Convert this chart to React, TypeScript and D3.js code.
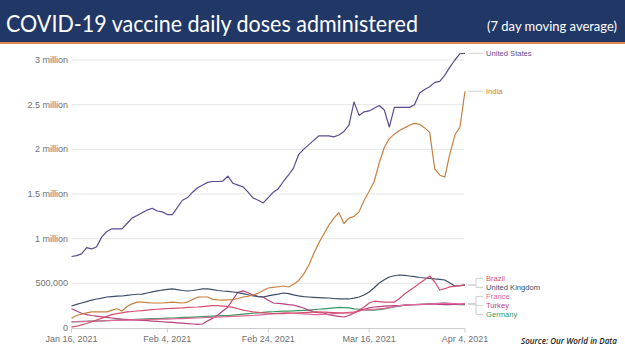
import React from "react";
import * as d3 from "d3";

// ---------- data (thousands of doses, 7-day average, daily from Jan 16 to Apr 4, 2021) ----------
const xTickDays = [0, 19, 39, 59, 78];
const xTickLabels = ["Jan 16, 2021", "Feb 4, 2021", "Feb 24, 2021", "Mar 16, 2021", "Apr 4, 2021"];
const yTicks = [0, 500, 1000, 1500, 2000, 2500, 3000];
const yTickLabels = ["0", "500,000", "1 million", "1.5 million", "2 million", "2.5 million", "3 million"];

const unitedStates = [
  800, 810, 830, 900, 885, 910, 1020, 1080, 1110, 1110,
  1110, 1170, 1230, 1260, 1290, 1320, 1340, 1310, 1300, 1270,
  1270, 1350, 1430, 1460, 1520, 1570, 1600, 1630, 1640, 1640,
  1645, 1700, 1620, 1600, 1580, 1520, 1455, 1430, 1400, 1460,
  1520, 1560, 1640, 1710, 1790, 1940, 2000, 2050, 2100, 2150,
  2150, 2150, 2140, 2160, 2200, 2270, 2530, 2380, 2420, 2430,
  2460, 2490, 2440, 2250, 2470, 2470, 2470, 2470, 2500, 2630,
  2670, 2700, 2750, 2760, 2830, 2920, 3000, 3070, 3075,
];
const india = [
  110, 140, 155, 170, 180, 180, 180, 180, 200, 215,
  190, 240, 270, 290, 290, 285, 280, 280, 280, 285,
  290, 285, 280, 290, 320, 345, 347, 347, 320, 315,
  313, 315, 318, 330, 347, 355, 370, 390, 420, 448,
  455, 462, 470, 459, 490, 530, 600, 700, 830, 950,
  1050, 1150, 1230, 1290, 1170, 1230, 1250, 1300, 1430, 1530,
  1640, 1850, 2020, 2120, 2170, 2210, 2240, 2270, 2290, 2280,
  2240, 2190, 1780, 1710, 1690, 1950, 2160, 2250, 2650,
];
const brazil = [
  10, 20, 35, 50, 70, 90, 110, 130, 150, 160,
  170, 180, 185, 190, 195, 200, 205, 210, 215, 218,
  220, 222, 225, 230, 232, 235, 240, 245, 250, 250,
  245, 240, 230, 215, 200, 190, 180, 175, 170, 165,
  160, 160, 162, 165, 168, 170, 172, 175, 178, 180,
  178, 175, 172, 170, 168, 168, 170, 200, 235, 280,
  300, 295, 290, 290, 290, 330, 380, 420, 460, 500,
  540, 582, 515, 425, 440, 460, 468, 475, 482,
];
const unitedKingdom = [
  246, 265, 280, 295, 313, 325, 335, 347, 352, 356,
  358, 365, 372, 378, 380, 392, 405, 415, 425, 432,
  437, 430, 420, 414, 420, 428, 437, 437, 430, 420,
  414, 410, 403, 395, 385, 372, 360, 352, 347, 360,
  370, 380, 392, 385, 370, 360, 352, 347, 343, 340,
  338, 336, 330, 325, 325, 325, 335, 347, 370, 403,
  450, 504, 540, 571, 585, 593, 590, 582, 575, 565,
  560, 555, 549, 545, 537, 504, 470, 475, 481,
];
const france = [
  70, 72, 74, 75, 77, 78, 80, 82, 84, 85,
  86, 88, 90, 92, 93, 95, 96, 98, 100, 100,
  102, 104, 106, 108, 110, 112, 115, 118, 120, 122,
  125, 128, 130, 132, 135, 138, 140, 145, 150, 155,
  160, 165, 170, 170, 165, 160, 158, 155, 150, 150,
  152, 155, 160, 165, 170, 175, 180, 190, 200, 205,
  210, 215, 220, 230, 240, 250, 255, 260, 262, 265,
  268, 270, 272, 275, 278, 275, 272, 270, 275,
];
const turkey = [
  215, 190, 165, 150, 140, 132, 125, 118, 112, 106,
  100, 96, 92, 88, 85, 82, 78, 74, 70, 66,
  62, 58, 54, 50, 45, 40, 45, 80, 110, 145,
  190, 235, 320, 400, 415, 395, 370, 355, 347, 310,
  280, 275, 270, 262, 257, 240, 224, 200, 180, 172,
  168, 150, 138, 130, 123, 140, 168, 190, 210, 225,
  235, 240, 245, 248, 250, 252, 255, 258, 260, 262,
  265, 268, 266, 264, 262, 262, 264, 266, 268,
];
const germany = [
  68, 70, 72, 74, 76, 78, 80, 82, 85, 88,
  90, 92, 95, 98, 100, 102, 104, 106, 108, 110,
  112, 115, 118, 120, 122, 125, 128, 130, 132, 135,
  138, 140, 145, 150, 155, 160, 165, 170, 175, 180,
  182, 185, 188, 190, 192, 195, 198, 200, 205, 210,
  215, 220, 225, 230, 228, 225, 215, 210, 205, 200,
  200, 205, 215, 225, 235, 245, 255, 260, 262, 265,
  268, 270, 272, 275, 278, 272, 265, 260, 262,
];

const seriesNames = ["United States", "India", "Brazil", "United Kingdom", "France", "Turkey", "Germany"];
const seriesValues = [unitedStates, india, brazil, unitedKingdom, france, turkey, germany];
const seriesColors = ["#5e4b8f", "#c8803f", "#d4506e", "#3d4d68", "#e0689a", "#b8417f", "#3a9960"];

export default function App() {
  const W = 625;
  const H = 351;
  const x = d3.scaleLinear().domain([0, 78]).range([71.5, 465]);
  const y = d3.scaleLinear().domain([0, 3000]).range([328, 60]);
  const line = d3
    .line<number>()
    .x((_, i) => x(i))
    .y((v) => y(v))
    .curve(d3.curveLinear);

  // label placement with simple collision avoidance
  const labelGap = 9;
  const items = seriesNames.map((name, i) => {
    const vals = seriesValues[i];
    const endY = y(vals[vals.length - 1]);
    return { name, color: seriesColors[i], endY, ly: endY };
  });
  for (let iter = 0; iter < 60; iter++) {
    for (let i = 1; i < items.length; i++) {
      const a = items[i - 1];
      const b = items[i];
      if (b.ly - a.ly < labelGap) {
        const overlap = labelGap - (b.ly - a.ly);
        a.ly -= overlap / 2;
        b.ly += overlap / 2;
      }
    }
  }

  const font = "'Liberation Sans', Arial, sans-serif";
  return (
    <svg
      width={W}
      height={H}
      viewBox={`0 0 ${W} ${H}`}
      style={{ position: "absolute", left: 0, top: 0, display: "block", background: "#fff" }}
    >
      {/* banner */}
      <rect x={0} y={0} width={W} height={42} fill="#213867" />
      <rect x={0} y={42} width={W} height={2} fill="#e3894f" />
      <text
        x={6}
        y={32}
        fill="#fff"
        fontFamily="Lato, 'Open Sans', sans-serif"
        fontSize={24}
        textLength={412}
        lengthAdjust="spacingAndGlyphs"
      >
        COVID-19 vaccine daily doses administered
      </text>
      <text
        x={487}
        y={31}
        fill="#fff"
        fontFamily="Lato, 'Open Sans', sans-serif"
        fontSize={13.5}
        textLength={130}
        lengthAdjust="spacingAndGlyphs"
      >
        (7 day moving average)
      </text>

      {/* grid + y labels */}
      {yTicks.map((t, i) => (
        <g key={t}>
          {t > 0 && (
            <line x1={72} x2={464} y1={y(t)} y2={y(t)} stroke="#e6e6e6" strokeWidth={1} />
          )}
          <text
            x={68}
            y={y(t)}
            dy="0.35em"
            textAnchor="end"
            fontFamily={font}
            fontSize={9}
            fill="#707070"
          >
            {yTickLabels[i]}
          </text>
        </g>
      ))}

      {/* x axis */}
      <line x1={71.5} x2={465} y1={328.5} y2={328.5} stroke="#cccccc" />
      {xTickDays.map((d, i) => (
        <g key={d}>
          <line x1={x(d)} x2={x(d)} y1={328.5} y2={332.5} stroke="#cccccc" />
          <text
            x={x(d)}
            y={342}
            textAnchor="middle"
            fontFamily={font}
            fontSize={9}
            fill="#707070"
          >
            {xTickLabels[i]}
          </text>
        </g>
      ))}

      {/* lines: draw in reverse so US on top */}
      {seriesValues
        .map((vals, i) => ({ vals, i }))
        .reverse()
        .map(({ vals, i }) => (
          <path
            key={seriesNames[i]}
            d={line(vals) || ""}
            fill="none"
            stroke={seriesColors[i]}
            strokeWidth={1.2}
            strokeLinejoin="round"
          />
        ))}

      {/* labels + leader lines */}
      {items.map((it) => (
        <g key={it.name}>
          <path
            d={`M${468},${it.endY}H${476}V${it.ly}H${483}`}
            fill="none"
            stroke="#d0d0d0"
            strokeWidth={1}
          />
          <text
            x={486}
            y={it.ly}
            dy="0.35em"
            fontFamily={font}
            fontSize={7.6}
            fill={it.color}
          >
            {it.name}
          </text>
        </g>
      ))}

      {/* source */}
      <text
        x={521}
        y={344}
        fontFamily="'Open Sans', sans-serif"
        fontStyle="italic"
        fontWeight={600}
        fontSize={8.6}
        fill="#222"
        textLength={96}
        lengthAdjust="spacingAndGlyphs"
      >
        Source: Our World in Data
      </text>
    </svg>
  );
}
